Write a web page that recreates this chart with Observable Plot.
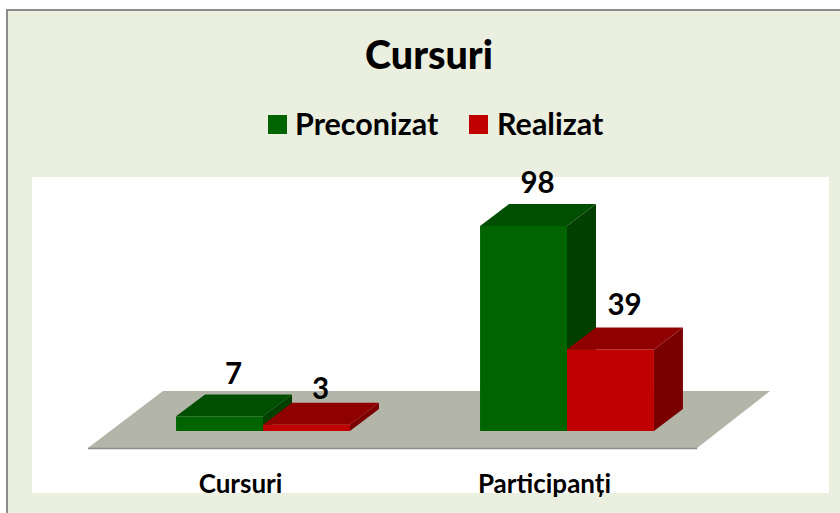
<!DOCTYPE html>
<html>
<head>
<meta charset="utf-8">
<script src="https://cdn.jsdelivr.net/npm/d3@7"></script>
<script src="https://cdn.jsdelivr.net/npm/@observablehq/plot@0.6"></script>
<style>
html,body{margin:0;padding:0;background:#fff;width:840px;height:513px;overflow:hidden;font-family:Lato,"Noto Sans",sans-serif;font-weight:700;color:#000}
#frame{position:absolute;left:6px;top:9px;width:832px;height:502px;background:#EBEFDF;border-left:2px solid #8c8c8c;border-top:2px solid #8c8c8c;border-bottom:2px solid #EBEFDF}
#title{position:absolute;left:351px;top:20px;width:140px;text-align:center;font-size:39.5px;line-height:46px;white-space:nowrap;font-weight:900}
#legend span{position:absolute;white-space:nowrap;font-size:30.5px;line-height:32px}
#legend i{position:absolute;width:19px;height:19px;top:104px}
#chart{position:absolute;left:24px;top:166px}
#chart svg{overflow:visible;display:block}
</style>
</head>
<body>
<div id="frame">
  <div id="title"></div>
  <div id="legend"></div>
  <div id="chart"></div>
</div>
<script>
const title = "Cursuri";
const categories = ["Cursuri", "Participanți"];
const seriesNames = ["Preconizat", "Realizat"];
const preconizat = [7, 98];
const realizat = [3, 39];
const labelLift = [[5.3, 5.3], [2.2, 6.2]];

const palette = [
  {front: "#006400", top: "#004f00", side: "#003f00"},
  {front: "#C00000", top: "#8f0000", side: "#7a0000"}
];
const barWidth = 0.286, depthX = 0.0954, depthY = 10.5;
const floorFront = -8.1, floorBack = 19.1;
const floorLeft = [-0.576, -0.329], floorRight = [1.428, 1.668];

document.getElementById("title").textContent = title;
const legend = document.getElementById("legend");
[[260, 287], [461, 489]].forEach(([sx, tx], i) => {
  const sw = document.createElement("i");
  sw.style.left = sx + "px";
  sw.style.background = palette[i].front;
  const tl = document.createElement("span");
  tl.style.left = tx + "px";
  tl.style.top = "96px";
  tl.textContent = seriesNames[i];
  legend.append(sw, tl);
});

const barMarks = (values, s) => {
  const x0 = (i) => i + (s - 1) * barWidth;
  const idx = values.map((_, i) => i);
  const side = idx.flatMap((i) => [
    {b: i, x: x0(i) + barWidth, y1: 0, y2: values[i]},
    {b: i, x: x0(i) + barWidth + depthX, y1: depthY, y2: values[i] + depthY}
  ]);
  const top = idx.flatMap((i) => [
    {b: i, y: values[i], x1: x0(i), x2: x0(i) + barWidth},
    {b: i, y: values[i] + depthY, x1: x0(i) + depthX, x2: x0(i) + barWidth + depthX}
  ]);
  return [
    Plot.areaY(side, {x: "x", y1: "y1", y2: "y2", z: "b", fill: palette[s].side}),
    Plot.areaX(top, {y: "y", x1: "x1", x2: "x2", z: "b", fill: palette[s].top}),
    Plot.rect(idx, {x1: x0, x2: (i) => x0(i) + barWidth, y1: 0, y2: (i) => values[i], fill: palette[s].front})
  ];
};

const valueLabels = (values, s) => Plot.text(values, {
  x: (_, i) => i + (s - 0.5) * barWidth + depthX / 2 - 0.003,
  y: (v, i) => v + depthY + labelLift[s][i],
  text: (v) => String(v),
  lineAnchor: "bottom",
  fontSize: 29.5,
  fontWeight: 700,
  fill: "#000"
});

const floor = [
  {y: floorFront, x1: floorLeft[0], x2: floorRight[0]},
  {y: floorBack, x1: floorLeft[1], x2: floorRight[1]}
];

const plot = Plot.plot({
  width: 797,
  height: 316,
  marginTop: 0, marginRight: 0, marginLeft: 0, marginBottom: 30,
  style: {background: "#fff", fontFamily: "Lato, 'Noto Sans', sans-serif", overflow: "visible"},
  x: {type: "linear", domain: [-231 / 304, 566 / 304], range: [0, 797], axis: null},
  y: {type: "linear", domain: [-32 / 2.092, 254 / 2.092], range: [286, 0], axis: null},
  marks: [
    Plot.areaX(floor, {y: "y", x1: "x1", x2: "x2", fill: "#B2B5A7"}),
    Plot.ruleY([floorFront], {x1: floorLeft[0], x2: floorRight[0], stroke: "#909090", strokeWidth: 1.5}),
    ...barMarks(preconizat, 0),
    ...barMarks(realizat, 1),
    valueLabels(preconizat, 0),
    valueLabels(realizat, 1),
    Plot.axisX([0, 1], {
      anchor: "bottom",
      tickSize: 0,
      tickPadding: 11,
      dx: -23,
      tickFormat: (i) => categories[i],
      fontSize: 26,
      fontWeight: 700,
      fill: "#000",
      label: null
    })
  ]
});
document.getElementById("chart").append(plot);
</script>
</body>
</html>
